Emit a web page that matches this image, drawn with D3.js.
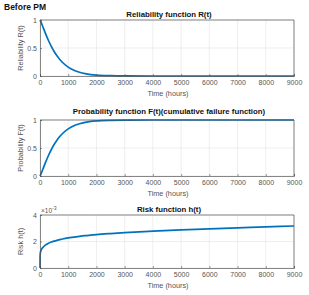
<!DOCTYPE html>
<html><head><meta charset="utf-8">
<script src="https://cdn.jsdelivr.net/npm/d3@7"></script>
<style>body{margin:0;background:#fff}svg{display:block}</style>
</head><body>
<svg id="c" width="309" height="295"></svg>
<script>
const hours = [0, 2, 10, 25, 50, 100, 200, 300, 400, 500, 600, 700, 800, 1000, 1200, 1400, 1600, 1800, 2000, 2500, 3000, 4000, 5000, 6000, 7000, 8000, 9000];
const reliability = [1, 0.998, 0.991, 0.975, 0.944, 0.880, 0.752, 0.634, 0.529, 0.438, 0.361, 0.296, 0.241, 0.158, 0.102, 0.066, 0.042, 0.026, 0.016, 0.005, 0.0014, 0.0001, 0, 0, 0, 0, 0];
const failure = [0, 0.002, 0.009, 0.025, 0.056, 0.120, 0.248, 0.366, 0.471, 0.562, 0.639, 0.704, 0.759, 0.842, 0.898, 0.934, 0.958, 0.974, 0.984, 0.995, 0.9986, 0.9999, 1, 1, 1, 1, 1];
const risk = [0, 0.80, 1.10, 1.25, 1.40, 1.55, 1.75, 1.87, 1.96, 2.03, 2.09, 2.14, 2.19, 2.27, 2.33, 2.39, 2.44, 2.48, 2.52, 2.60, 2.67, 2.78, 2.87, 2.95, 3.03, 3.10, 3.17];
const xTicks = [0, 1000, 2000, 3000, 4000, 5000, 6000, 7000, 8000, 9000];
const yTicks01 = [0, 0.5, 1];
const yTicksRisk = [0, 2, 4];

const svg = d3.select("#c");
const font = "Arial, 'Liberation Sans', Helvetica, sans-serif";
svg.append("text").attr("x", 4).attr("y", 9.5).attr("font-family", font)
  .attr("font-size", 8.5).attr("font-weight", "bold").attr("fill", "#111").text("Before PM");

const L = 40, R = 294;
const panels = [
  {top: 20, bottom: 76, tY: 16.5, title: "Reliability function R(t)", ylab: "Reliability R(t)", vals: reliability, dom: [0,1], ticks: yTicks01},
  {top: 120, bottom: 176, tY: 113.5, title: "Probability function F(t)(cumulative failure function)", ylab: "Probability F(t)", vals: failure, dom: [0,1], ticks: yTicks01},
  {top: 215, bottom: 268, tY: 211.5, title: "Risk function h(t)", ylab: "Risk h(t)", vals: risk, dom: [0,4], ticks: yTicksRisk, exp: true}
];

panels.forEach(p => {
  const x = d3.scaleLinear().domain([0, 9000]).range([L, R]);
  const y = d3.scaleLinear().domain(p.dom).range([p.bottom, p.top]);
  const g = svg.append("g");
  g.selectAll(".gx").data(xTicks).join("line")
    .attr("x1", d => x(d)).attr("x2", d => x(d)).attr("y1", p.top).attr("y2", p.bottom)
    .attr("stroke", "#e3e3e3").attr("stroke-width", 0.6);
  g.selectAll(".gy").data(p.ticks).join("line")
    .attr("x1", L).attr("x2", R).attr("y1", d => y(d)).attr("y2", d => y(d))
    .attr("stroke", "#e3e3e3").attr("stroke-width", 0.6);
  const line = d3.line().x((d, i) => x(hours[i])).y(d => y(d)).curve(d3.curveMonotoneX);
  g.append("path").datum(p.vals).attr("d", line).attr("fill", "none")
    .attr("stroke", "#0072BD").attr("stroke-width", 1.7);
  const ax = d3.axisBottom(x).tickValues(xTicks).tickSize(-2).tickPadding(4).tickFormat(d3.format("d"));
  const gx = g.append("g").attr("transform", `translate(0,${p.bottom})`).call(ax);
  const ay = d3.axisLeft(y).tickValues(p.ticks).tickSize(-2).tickPadding(3).tickFormat(d => String(d));
  const gy = g.append("g").attr("transform", `translate(${L},0)`).call(ay);
  [gx, gy].forEach(a => {
    a.select(".domain").attr("stroke", "#555").attr("stroke-width", 0.7);
    a.selectAll(".tick line").attr("stroke", "#555").attr("stroke-width", 0.6);
    a.selectAll("text").attr("font-family", font).attr("font-size", 7).attr("fill", "#555");
  });
  g.append("line").attr("x1", L).attr("x2", R).attr("y1", p.top).attr("y2", p.top).attr("stroke", "#555").attr("stroke-width", 0.7);
  g.append("line").attr("x1", R).attr("x2", R).attr("y1", p.top).attr("y2", p.bottom).attr("stroke", "#555").attr("stroke-width", 0.7);
  g.append("text").attr("x", (L + R) / 2 + 2).attr("y", p.tY).attr("text-anchor", "middle")
    .attr("font-family", font).attr("font-size", 7.8).attr("font-weight", "bold").attr("fill", "#111").text(p.title);
  g.append("text").attr("x", (L + R) / 2 + 1).attr("y", p.bottom + 19.5).attr("text-anchor", "middle")
    .attr("font-family", font).attr("font-size", 7.3).attr("fill", "#555").text("Time (hours)");
  g.append("text").attr("transform", `translate(22.5,${(p.top + p.bottom) / 2}) rotate(-90)`).attr("text-anchor", "middle")
    .attr("font-family", font).attr("font-size", 7.3).attr("fill", "#555").text(p.ylab);
  if (p.exp) {
    const t = g.append("text").attr("x", L + 1).attr("y", p.top - 2).attr("font-family", font)
      .attr("font-size", 6.5).attr("fill", "#555");
    t.append("tspan").text("\u00d710");
    t.append("tspan").attr("dy", -3).attr("font-size", 5.2).text("-3");
  }
});
</script>
</body></html>
